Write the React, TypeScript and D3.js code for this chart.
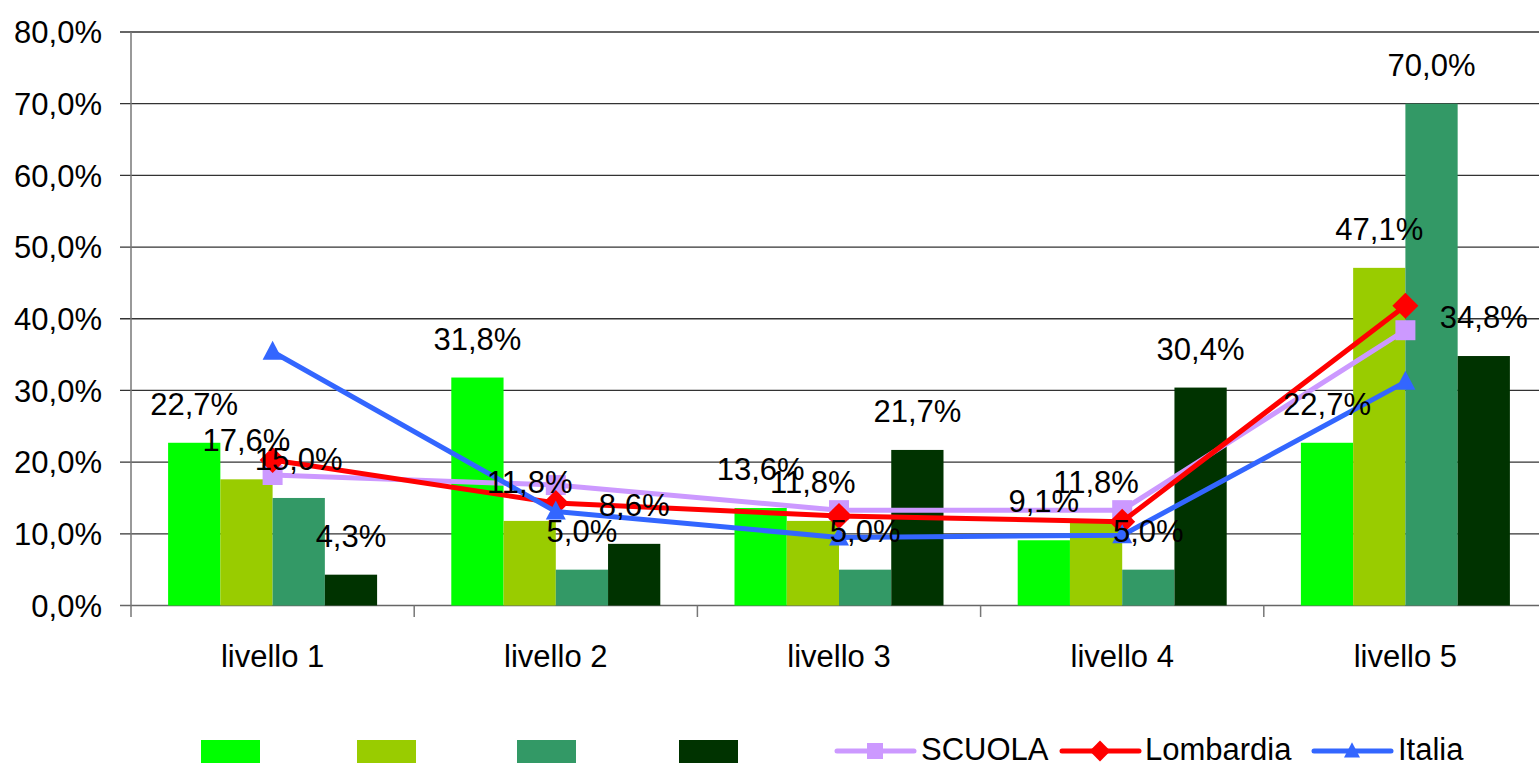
import React from 'react';
import * as d3 from 'd3';

const categories = ['livello 1', 'livello 2', 'livello 3', 'livello 4', 'livello 5'];

// bar series (no names in the legend)
const serie1 = [22.7, 31.8, 13.6, 9.1, 22.7];
const serie2 = [17.6, 11.8, 11.8, 11.8, 47.1];
const serie3 = [15.0, 5.0, 5.0, 5.0, 70.0];
const serie4 = [4.3, 8.6, 21.7, 30.4, 34.8];
const barColors = ['#00FF00', '#99CC00', '#339966', '#003300'];

// line series
const lineNames = ['SCUOLA', 'Lombardia', 'Italia'];
const scuola = [18.2, 16.8, 13.3, 13.3, 38.4];
const lombardia = [20.3, 14.3, 12.5, 11.7, 41.8];
const italia = [35.4, 13.1, 9.5, 9.8, 31.2];
const lineColors = ['#CC99FF', '#FF0000', '#3366FF'];

const yTicks = [0, 10, 20, 30, 40, 50, 60, 70, 80];

const W = 1539;
const H = 765;
const FONT = '"Liberation Sans", Arial, sans-serif';
const FS = 31;

const fmt = (v: number) => d3.format('.1f')(v).replace('.', ',') + '%';

const markerPath = (kind: number, s: number) => {
  if (kind === 0) return `M${-s},${-s}H${s}V${s}H${-s}Z`;
  if (kind === 1) {
    const h = s * 1.3;
    return `M0,${-h}L${h},0L0,${h}L${-h},0Z`;
  }
  return `M0,${-s * 1.1}L${s},${s * 0.8}L${-s},${s * 0.8}Z`;
};

const App = () => {
  const bars = [serie1, serie2, serie3, serie4];
  const lines = [scuola, lombardia, italia];

  const x0 = d3.scaleBand<string>().domain(categories).range([131, 1547]).padding(0);
  const x1 = d3
    .scaleBand<number>()
    .domain(d3.range(bars.length))
    .range([0, x0.bandwidth()])
    .paddingInner(0)
    .paddingOuter(0.71);
  const y = d3.scaleLinear().domain([0, 80]).range([605.5, 32]);

  const cx = (i: number) => (x0(categories[i]) as number) + x0.bandwidth() / 2;

  const lineGen = d3
    .line<number>()
    .x((_, i) => cx(i))
    .y((d) => y(d));

  const legendRects = [201, 357, 517, 679];
  const legendLines = [
    { x: 837, text: 921 },
    { x: 1062, text: 1145 },
    { x: 1314, text: 1398 },
  ];

  return (
    <svg
      width={W}
      height={H}
      style={{ position: 'absolute', left: 0, top: 0, background: '#fff' }}
      fontFamily={FONT}
    >
      {/* gridlines + y labels */}
      {yTicks.map((t) => (
        <g key={t}>
          <line x1={120} x2={W} y1={y(t)} y2={y(t)} stroke={t === 0 ? '#666' : '#333'} strokeWidth={1.3} />
          <text x={102} y={y(t)} dy="0.36em" textAnchor="end" fontSize={FS} fill="#000">
            {fmt(t)}
          </text>
        </g>
      ))}
      <line x1={131} x2={131} y1={32} y2={617} stroke="#777" strokeWidth={1.5} />
      {categories.map((c, i) => (
        <g key={c}>
          <line
            x1={(x0(c) as number) + x0.bandwidth()}
            x2={(x0(c) as number) + x0.bandwidth()}
            y1={605.5}
            y2={617}
            stroke="#777"
            strokeWidth={1.5}
          />
          <text x={cx(i)} y={667} textAnchor="middle" fontSize={FS} fill="#000">
            {c}
          </text>
        </g>
      ))}

      {/* bars */}
      {bars.map((vals, s) =>
        vals.map((v, i) => (
          <rect
            key={`b${s}-${i}`}
            x={(x0(categories[i]) as number) + (x1(s) as number)}
            y={y(v)}
            width={x1.bandwidth()}
            height={y(0) - y(v)}
            fill={barColors[s]}
          />
        )),
      )}

      {/* lines */}
      {lines.map((vals, s) => (
        <g key={`l${s}`}>
          <path d={lineGen(vals) as string} fill="none" stroke={lineColors[s]} strokeWidth={5} strokeLinejoin="round" />
          {vals.map((v, i) => (
            <path
              key={i}
              d={markerPath(s, 10)}
              transform={`translate(${cx(i)},${y(v)})`}
              fill={lineColors[s]}
            />
          ))}
        </g>
      ))}

      {/* bar labels */}
      {bars.map((vals, s) =>
        vals.map((v, i) => (
          <text
            key={`t${s}-${i}`}
            x={(x0(categories[i]) as number) + (x1(s) as number) + x1.bandwidth() / 2}
            y={y(v) - 28}
            textAnchor="middle"
            fontSize={FS}
            fill="#000"
          >
            {fmt(v)}
          </text>
        )),
      )}

      {/* legend */}
      {legendRects.map((lx, s) => (
        <rect key={`lr${s}`} x={lx} y={740} width={59} height={23} fill={barColors[s]} />
      ))}
      {legendLines.map((l, s) => (
        <g key={`ll${s}`}>
          <line x1={l.x} x2={l.x + 77} y1={751} y2={751} stroke={lineColors[s]} strokeWidth={5} strokeLinecap="round" />
          <path d={markerPath(s, 8)} transform={`translate(${l.x + 38},751)`} fill={lineColors[s]} />
          <text x={l.text} y={749} dy="0.36em" fontSize={FS} fill="#000">
            {lineNames[s]}
          </text>
        </g>
      ))}
    </svg>
  );
};

export default App;
